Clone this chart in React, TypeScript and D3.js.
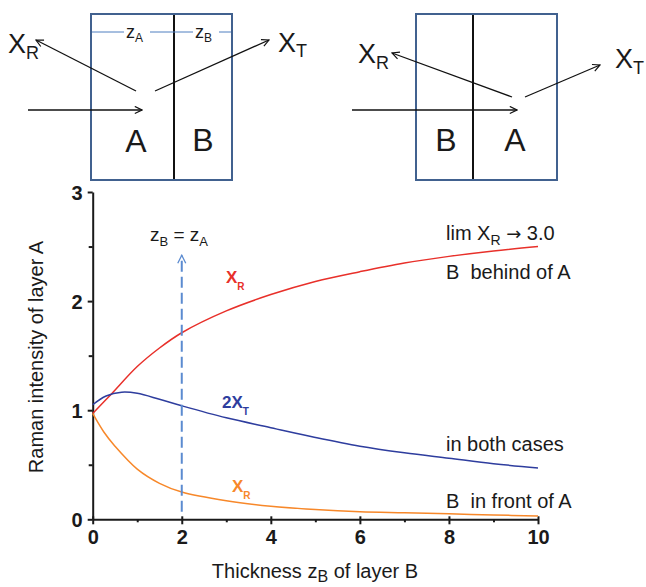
import React, { useEffect, useRef } from "react";
import * as d3 from "d3";

// curve values
const thicknessBehind = [0, 0.4, 1, 1.5, 2, 3, 4, 5, 6, 7, 8, 9, 10];
const xrBehind = [0.97, 1.14, 1.4, 1.57, 1.71, 1.91, 2.06, 2.18, 2.27, 2.35, 2.41, 2.46, 2.5];

const thicknessBoth = [0, 0.3, 0.65, 1, 1.5, 2, 3, 4, 5, 6, 7, 8, 9, 10];
const xtTwice = [1.05, 1.13, 1.165, 1.155, 1.1, 1.04, 0.93, 0.84, 0.75, 0.67, 0.61, 0.56, 0.51, 0.47];

const thicknessFront = [0, 0.25, 0.5, 1, 1.5, 2, 3, 4, 5, 6, 7, 8, 9, 10];
const xrFront = [0.97, 0.8, 0.67, 0.46, 0.33, 0.25, 0.17, 0.12, 0.09, 0.07, 0.06, 0.05, 0.04, 0.03];

const xTicks = [0, 2, 4, 6, 8, 10];
const xMinor = [1, 3, 5, 7, 9];
const yTicks = [0, 1, 2, 3];
const yMinor = [0.5, 1.5, 2.5];
const markerX = 2;

const FONT = "Liberation Sans, Arial, Helvetica, sans-serif";

export default function App() {
  const ref = useRef<SVGSVGElement>(null);

  useEffect(() => {
    const svg = d3.select(ref.current);
    svg.selectAll("*").remove();

    const x = d3.scaleLinear().domain([0, 10]).range([92.7, 538]);
    const y = d3.scaleLinear().domain([0, 3]).range([519.3, 192]);

    const defs = svg.append("defs");
    const addMarker = (id: string, color: string, size: number) => {
      defs.append("marker")
        .attr("id", id)
        .attr("viewBox", "0 0 10 10")
        .attr("refX", 9)
        .attr("refY", 5)
        .attr("markerWidth", size)
        .attr("markerHeight", size)
        .attr("markerUnits", "userSpaceOnUse")
        .attr("orient", "auto")
        .append("path")
        .attr("d", "M1,1 L9,5 L1,9")
        .attr("fill", "none")
        .attr("stroke", color)
        .attr("stroke-width", 1.3);
    };
    addMarker("arrK", "#111", 9);
    addMarker("arrB", "#5b8bd0", 10);

    // ---- top diagrams ----
    const drawBox = (x0: number, x1: number, div: number) => {
      svg.append("rect")
        .attr("x", x0).attr("y", 14)
        .attr("width", x1 - x0).attr("height", 166)
        .attr("fill", "none")
        .attr("stroke", "#41618f")
        .attr("stroke-width", 2);
      svg.append("line")
        .attr("x1", div).attr("x2", div)
        .attr("y1", 15).attr("y2", 179)
        .attr("stroke", "#111")
        .attr("stroke-width", 2);
    };
    const arrow = (x1: number, y1: number, x2: number, y2: number) => {
      svg.append("line")
        .attr("x1", x1).attr("y1", y1).attr("x2", x2).attr("y2", y2)
        .attr("stroke", "#111").attr("stroke-width", 1.3)
        .attr("marker-end", "url(#arrK)");
    };
    const subLabel = (tx: number, ty: number, main: string, sub: string, size: number, subSize: number, dy: number, extra?: any) => {
      const t = svg.append("text")
        .attr("x", tx).attr("y", ty)
        .attr("font-family", FONT)
        .attr("font-size", size)
        .attr("fill", extra?.fill || "#1a1a1a")
        .attr("font-weight", extra?.weight || "normal");
      t.append("tspan").text(main);
      t.append("tspan").attr("dy", dy).attr("font-size", subSize).text(sub);
      return t;
    };
    const bigText = (tx: number, ty: number, s: string) => {
      svg.append("text")
        .attr("x", tx).attr("y", ty)
        .attr("text-anchor", "middle")
        .attr("font-family", FONT)
        .attr("font-size", 32)
        .attr("fill", "#1a1a1a")
        .text(s);
    };

    // left: A then B
    drawBox(91, 232, 174);
    svg.append("line")
      .attr("x1", 92).attr("x2", 231).attr("y1", 32).attr("y2", 32)
      .attr("stroke", "#4f7fc0").attr("stroke-width", 1);
    [[136, "A"], [205, "B"]].forEach(([cx, s]) => {
      svg.append("rect").attr("x", (cx as number) - 12).attr("y", 24)
        .attr("width", 26).attr("height", 17).attr("fill", "#fff");
      subLabel((cx as number) - 10, 38, "z", s as string, 18, 12, 4);
    });
    arrow(136, 91, 36, 40);
    arrow(155, 91, 269, 40);
    arrow(28, 110, 142, 110);
    subLabel(8, 53, "X", "R", 27, 18, 6);
    subLabel(278, 52, "X", "T", 27, 18, 5);
    bigText(136, 152, "A");
    bigText(203, 151, "B");

    // right: B then A
    drawBox(416, 557, 473);
    arrow(512, 97, 392, 53);
    arrow(525, 97, 600, 65);
    arrow(352, 110, 517, 110);
    subLabel(358, 63, "X", "R", 27, 18, 6);
    subLabel(615, 68, "X", "T", 27, 18, 6);
    bigText(446, 151, "B");
    bigText(515, 151, "A");

    // ---- chart ----
    const axisColor = "#1a1a1a";
    const xAxis = svg.append("g")
      .attr("transform", `translate(0, ${y(0)})`)
      .call(d3.axisBottom(x).tickValues(xTicks).tickSize(5).tickSizeOuter(0).tickPadding(6));
    xAxis.selectAll(".tick line").attr("y1", -3);
    svg.append("g")
      .attr("transform", `translate(0, ${y(0)})`)
      .call(d3.axisBottom(x).tickValues(xMinor).tickSize(3).tickFormat(() => "").tickSizeOuter(0))
      .select(".domain").remove();

    const yAxis = svg.append("g")
      .attr("transform", `translate(${x(0)}, 0)`)
      .call(d3.axisLeft(y).tickValues(yTicks).tickFormat(d3.format("d")).tickSize(5).tickSizeOuter(0).tickPadding(5));
    svg.append("g")
      .attr("transform", `translate(${x(0)}, 0)`)
      .call(d3.axisLeft(y).tickValues(yMinor).tickSize(4).tickFormat(() => "").tickSizeOuter(0))
      .select(".domain").remove();

    svg.selectAll(".domain, .tick line")
      .attr("stroke", axisColor)
      .attr("stroke-width", 2);
    [xAxis, yAxis].forEach(g => g.selectAll(".tick text")
      .attr("font-family", FONT)
      .attr("font-size", 20)
      .attr("font-weight", "bold")
      .attr("fill", axisColor));
    yAxis.selectAll(".tick text").attr("dy", "0.36em");

    const line = d3.line<[number, number]>()
      .x(d => x(d[0]))
      .y(d => y(d[1]))
      .curve(d3.curveCatmullRom.alpha(0.5));

    const series = [
      { xs: thicknessBehind, ys: xrBehind, color: "#e8302a" },
      { xs: thicknessBoth, ys: xtTwice, color: "#2e3d9e" },
      { xs: thicknessFront, ys: xrFront, color: "#f7882a" },
    ];
    series.forEach(s => {
      svg.append("path")
        .datum(s.xs.map((v, i) => [v, s.ys[i]] as [number, number]))
        .attr("d", line)
        .attr("fill", "none")
        .attr("stroke", s.color)
        .attr("stroke-width", 1.5);
    });

    // dashed marker at zB = zA
    svg.append("line")
      .attr("x1", x(markerX)).attr("x2", x(markerX))
      .attr("y1", y(0.07)).attr("y2", y(2.42))
      .attr("stroke", "#5b8bd0")
      .attr("stroke-width", 2)
      .attr("stroke-dasharray", "11,5")
      .attr("marker-end", "url(#arrB)");
    const zt = svg.append("text")
      .attr("x", 150).attr("y", 241)
      .attr("font-family", FONT).attr("font-size", 19).attr("fill", "#1a1a1a");
    zt.append("tspan").text("z");
    zt.append("tspan").attr("dy", 5).attr("font-size", 13).text("B");
    zt.append("tspan").attr("dy", -5).text(" = z");
    zt.append("tspan").attr("dy", 5).attr("font-size", 13).text("A");

    // curve labels
    subLabel(226, 283, "X", "R", 17, 10, 7, { fill: "#e8302a", weight: "bold" });
    subLabel(222, 408, "2X", "T", 17, 10, 7, { fill: "#2e3d9e", weight: "bold" });
    subLabel(232, 492, "X", "R", 17, 10, 7, { fill: "#f7882a", weight: "bold" });

    // right annotations
    const lim = svg.append("text")
      .attr("x", 446).attr("y", 240)
      .attr("font-family", FONT).attr("font-size", 20).attr("fill", "#1a1a1a");
    lim.append("tspan").text("lim X");
    lim.append("tspan").attr("dy", 5).attr("font-size", 14).text("R");
    lim.append("tspan").attr("dy", -5).text(" ");
    lim.append("tspan").attr("font-family", "DejaVu Sans").attr("font-size", 18).text("\u2192");
    lim.append("tspan").text(" 3.0");
    [["B  behind of A", 279], ["in both cases", 451], ["B  in front of A", 508]].forEach(([s, ty]) => {
      svg.append("text")
        .attr("x", 446).attr("y", ty as number)
        .attr("font-family", FONT).attr("font-size", 20).attr("fill", "#1a1a1a")
        .attr("xml:space", "preserve")
        .style("white-space", "pre")
        .text(s as string);
    });

    // axis titles
    svg.append("text")
      .attr("transform", `translate(43, 357) rotate(-90)`)
      .attr("text-anchor", "middle")
      .attr("font-family", FONT).attr("font-size", 20).attr("fill", "#1a1a1a")
      .text("Raman intensity of layer A");
    const xt = svg.append("text")
      .attr("x", 315).attr("y", 578)
      .attr("text-anchor", "middle")
      .attr("font-family", FONT).attr("font-size", 20).attr("fill", "#1a1a1a");
    xt.append("tspan").text("Thickness z");
    xt.append("tspan").attr("dy", 4).attr("font-size", 16).text("B");
    xt.append("tspan").attr("dy", -4).text(" of layer B");
  }, []);

  return (
    <svg
      ref={ref}
      width={646}
      height={587}
      style={{ position: "absolute", left: 0, top: 0, background: "#fff" }}
    />
  );
}
